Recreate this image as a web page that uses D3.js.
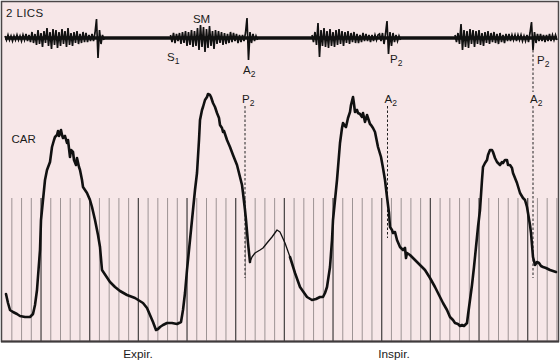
<!DOCTYPE html>
<html>
<head>
<meta charset="utf-8">
<script src="https://cdn.jsdelivr.net/npm/d3@7"></script>
<style>
  body { margin: 0; background: #fff; }
  svg text { font-family: "Liberation Sans", Arial, sans-serif; fill: #1a1a1a; }
</style>
</head>
<body>
<svg id="chart" width="560" height="361"></svg>
<script>
const width = 560, height = 361;

// phonocardiogram (2 LICS) bursts: start time, sample step, deflections
const pcgBursts = [
    {start: 5, step: 1.5, vals: [2,-2,3,-2,2,-3,2,-2,3,-2,2,-3,3,-2,4,-3,3,
        -4,6,-5,4,-7,8,-6,5,-9,7,-5,10,-8,6,-11,9,-7,8,-10,6,
        -8,9,-6,7,-9,10,-7,5,-8,6,-5,7,-6,4,-5,6,-4,5,-4,3,
        -3,4,-3,5,19,-20,8,-6,3,-2]},
    {start: 170.5, step: 1.5, vals: [3,-4,5,-5,4,-3,5,-6,
        6,-5,7,-8,6,-7,8,-9,7,-8,
        10,-12,13,-9,11,-14,9,-10,12,-8,7,-11,8,
        -6,7,-5,6,-7,5,-6,4,-5,6,-4,5,-3,4,-5,3,-4,3,-3,
        5,20,-22,6,-5,4,-3,2,-2]},
    {start: 312, step: 1.5, vals: [3,-4,6,-7,
        15,-19,8,
        -8,10,-9,7,-10,9,-8,6,-9,8,-7,9,-6,7,-8,
        6,-5,7,-6,5,-4,6,-5,4,-5,3,-4,5,-3,4,-3,3,-4,3,-3,3,-2,3,
        4,-3,5,-6,4,17,-16,6,-8,5,-4,3,-3,2,-2]},
    {start: 455, step: 1.5, vals: [3,-4,5,-6,
        14,-12,
        8,-9,7,-10,9,-6,8,-9,7,-6,8,-7,5,-8,6,-5,7,-6,
        5,-4,6,-5,4,-6,5,-4,3,-5,4,-3,4,-3,3,-2,3,
        -3,3,-2,3,-3,2,-3,3,-4,5,
        16,-12,6,
        -5,4,-3,4,-3,3,-4,3,-3,4,-3,3,-2,3,-2]}
];
const pcgSpan = [5, 557];

// carotid pulse (CAR): [time, height]
const carThick1 = [[6,47],[8,38],[10,31],[13,29],[17,27],[20,25],[25,24],[30,24],[33,27],[35,36],[37,51],
    [40,91],[41,121],[43,141],[45,161],[47,171],[50,179],[52,194],[54,201],[55,204],[57,206],[58,210],
    [59,205],[60,208],[61,211],[62,206],[63,203],[65,205],[67,198],[68,201],[70,184],[71,191],[73,189],
    [74,181],[76,176],[77,183],[79,174],[80,171],[82,161],[83,154],[87,148],[90,141],[92,134],[95,121],
    [98,106],[100,94],[102,71],[106,65],[110,59],[113,56],[115,54],[120,50],[127,46],[135,43],[143,38],
    [147,33],[150,26],[153,19],[156,11],[158,12],[160,14],[163,16],[167,18],[172,18],[177,17],[181,19],
    [183,31],[185,48],[187,71],[190,101],[193,131],[195,151],[197,168],[199,201],[200,221],[202,231],
    [203,234],[205,241],[207,244],[208,247],[210,246],[211,244],[213,238],[215,234],[217,228],[219,223],
    [220,216],[222,213],[223,209],[224,210],[227,201],[230,194],[233,186],[237,176],[240,164],[242,156],
    [243,148],[245,131],[246,121],[248,98],[250,79]];
const carThin = [[250,79],[252,84],[255,88],[260,91],[263,93],[267,98],[272,104],[277,111],[280,109],
    [285,98],[290,84]];
const carThick2 = [[290,84],[295,68],[300,54],[307,44],[312,41],[316,42],[320,44],[323,44],[325,48],
    [327,54],[330,74],[332,101],[333,121],[335,141],[337,161],[340,198],[342,213],[343,218],[345,215],
    [346,214],[348,223],[350,229],[351,236],[353,244],[354,237],[355,229],[357,231],[358,228],[360,227],
    [362,224],[363,228],[365,219],[367,226],[368,223],[370,217],[371,216],[373,213],[375,209],[378,194],
    [381,184],[383,173],[385,161],[387,144],[389,128],[390,114],[392,111],[393,108],[395,109],[397,101],
    [400,94],[403,91],[405,93],[406,83],[407,88],[410,86],[415,81],[420,76],[425,71],[430,63],[435,54],
    [440,44],[443,38],[447,31],[450,24],[453,21],[455,18],[458,17],[460,15],[462,16],[464,15],[467,18],
    [468,26],[470,41],[472,56],[474,74],[476,94],[478,114],[480,131],[481,146],[482,161],[483,174],
    [485,178],[487,181],[488,186],[490,191],[492,191],[493,189],[495,183],[497,179],[499,177],[500,176],
    [502,179],[503,178],[505,181],[507,181],[508,176],[510,176],[512,173],[513,168],[515,163],[517,158],
    [520,148],[523,143],[525,141],[527,134],[528,128],[530,116],[531,108],[533,84],[535,76],[537,79],
    [539,78],[541,75],[543,74],[546,73],[550,71],[553,70],[556,69]];

// dashed timing markers: time, top/bottom heights on CAR scale (pcg = starts under the PCG trace)
const markers = [
    {t: 245, label: "P", sub: "2", from: 235, to: 63},
    {t: 387.5, label: "A", sub: "2", from: 235, to: 103},
    {t: 533, label: "A", sub: "2", from: 235, to: 63, pcg: true}
];
const pcgLabels = [
    {t: 167, text: "S", sub: "1", dy: 23},
    {t: 243, text: "A", sub: "2", dy: 36},
    {t: 390, text: "P", sub: "2", dy: 24.5},
    {t: 537, text: "P", sub: "2", dy: 26}
];
const gridCount = 57;
const phaseLabels = [{t: 138, text: "Expir."}, {t: 394, text: "Inspir."}];

const svg = d3.select("#chart");
const x = d3.scaleLinear().domain([0, 560]).range([0, 560]);
const yPcg = d3.scaleLinear().domain([-25, 25]).range([63, 13]);
const yCar = d3.scaleLinear().domain([0, 250]).range([341, 91]);
const xGrid = d3.scaleLinear().domain([0, gridCount]).range([2.1, 556.9]);

// panel
svg.append("rect")
    .attr("x", 1.5).attr("y", 1.5)
    .attr("width", 557).attr("height", 340)
    .attr("fill", "#f7e7e8")
    .attr("stroke", "#4a4647")
    .attr("stroke-width", 1.5);

// grid of timing lines
svg.append("g").selectAll("line")
    .data(d3.range(1, gridCount + 1))
    .enter()
    .append("line")
    .attr("x1", d => xGrid(d)).attr("x2", d => xGrid(d))
    .attr("y1", 198).attr("y2", 341)
    .attr("stroke", d => d % 5 === 4 ? "#4f4a4b" : "#9d9394")
    .attr("stroke-width", d => d % 5 === 4 ? 1.3 : 1);

// bottom edge
svg.append("line")
    .attr("x1", 1).attr("x2", 559)
    .attr("y1", 341.5).attr("y2", 341.5)
    .attr("stroke", "#3f3b3c").attr("stroke-width", 2);

// PCG trace
svg.append("line")
    .attr("x1", x(pcgSpan[0])).attr("x2", x(pcgSpan[1]))
    .attr("y1", yPcg(0)).attr("y2", yPcg(0))
    .attr("stroke", "#111").attr("stroke-width", 3.4);

const pcgLine = d3.line().x(d => x(d[0])).y(d => yPcg(d[1]));
pcgBursts.forEach(b => {
    const pts = b.vals.map((v, i) => [b.start + i * b.step, v]);
    svg.append("path")
        .attr("d", pcgLine(pts))
        .attr("fill", "none")
        .attr("stroke", "#111")
        .attr("stroke-width", 1.7);
});

// dashed markers
markers.forEach(m => {
    svg.append("line")
        .attr("x1", x(m.t)).attr("x2", x(m.t))
        .attr("y1", yCar(m.from) + 0).attr("y2", yCar(m.to))
        .attr("stroke", "#222").attr("stroke-width", 1)
        .attr("stroke-dasharray", "2.5,2");
    if (m.pcg) {
        svg.append("line")
            .attr("x1", x(m.t)).attr("x2", x(m.t))
            .attr("y1", yPcg(-12)).attr("y2", 92)
            .attr("stroke", "#222").attr("stroke-width", 1)
            .attr("stroke-dasharray", "2.5,2");
    }
});

// CAR trace
const carLine = d3.line().x(d => x(d[0])).y(d => yCar(d[1]));
[[carThick1, 2.6], [carThin, 1.3], [carThick2, 2.6]].forEach(([pts, w]) => {
    svg.append("path")
        .attr("d", carLine(pts))
        .attr("fill", "none")
        .attr("stroke", "#111")
        .attr("stroke-width", w)
        .attr("stroke-linejoin", "round")
        .attr("stroke-linecap", "round");
});

function subLabel(g, xPos, yPos, main, sub) {
    const t = g.append("text").attr("x", xPos).attr("y", yPos).attr("font-size", 11.5);
    t.append("tspan").text(main);
    t.append("tspan").attr("font-size", 8.5).attr("dy", 3).text(sub);
}

// labels
svg.append("text").attr("x", 6).attr("y", 17).attr("font-size", 11.5)
    .attr("letter-spacing", 0.4).text("2 LICS");
svg.append("text").attr("x", 201.5).attr("y", 22.7).attr("font-size", 11.5)
    .attr("text-anchor", "middle").text("SM");
svg.append("text").attr("x", 11.5).attr("y", 143.3).attr("font-size", 11.5).text("CAR");

pcgLabels.forEach(l => subLabel(svg, x(l.t), yPcg(0) + l.dy, l.text, l.sub));
markers.forEach(m => subLabel(svg, x(m.t) - 3, 103.3, m.label, m.sub));

phaseLabels.forEach(p => {
    svg.append("text")
        .attr("x", x(p.t)).attr("y", 358.3)
        .attr("font-size", 11.8)
        .attr("text-anchor", "middle")
        .text(p.text);
});
</script>
</body>
</html>
